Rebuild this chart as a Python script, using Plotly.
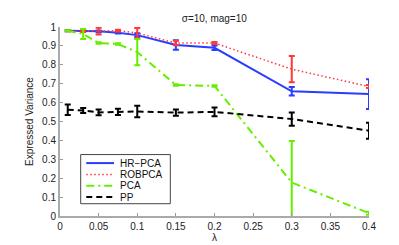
import plotly.graph_objects as go

lam = [0.01, 0.03, 0.05, 0.075, 0.1, 0.15, 0.2, 0.3, 0.4]

hr_pca = [0.98, 0.98, 0.977, 0.97, 0.957, 0.905, 0.89, 0.66, 0.645]
hr_pca_err = [0.003, 0.004, 0.005, 0.005, 0.01, 0.025, 0.012, 0.022, 0.079]

robpca = [0.98, 0.978, 0.978, 0.981, 0.968, 0.915, 0.915, 0.777, 0.685]
robpca_err = [0.003, 0.004, 0.018, 0.005, 0.027, 0.012, 0.005, 0.069, 0.008]

pca = [0.98, 0.963, 0.915, 0.91, 0.867, 0.693, 0.688, 0.177, 0.015]
pca_err = [0.003, 0.027, 0.004, 0.004, 0.07, 0.004, 0.004, 0.22, 0.008]

pp = [0.562, 0.558, 0.548, 0.551, 0.553, 0.547, 0.551, 0.513, 0.451]
pp_err = [0.028, 0.013, 0.015, 0.017, 0.03, 0.016, 0.023, 0.035, 0.042]

x_ticks = [0, 0.05, 0.1, 0.15, 0.2, 0.25, 0.3, 0.35, 0.4]
x_tick_labels = ["0", "0.05", "0.1", "0.15", "0.2", "0.25", "0.3", "0.35", "0.4"]
y_ticks = [0, 0.1, 0.2, 0.3, 0.4, 0.5, 0.6, 0.7, 0.8, 0.9, 1]
y_tick_labels = ["0", "0.1", "0.2", "0.3", "0.4", "0.5", "0.6", "0.7", "0.8", "0.9", "1"]

series = [
    ("HR\u2212PCA", hr_pca, hr_pca_err, "#2a3cff", "solid", 2),
    ("ROBPCA", robpca, robpca_err, "#ff3838", "1.5px,2.5px", 1.5),
    ("PCA", pca, pca_err, "#66ee00", "8px,4px,2px,4px", 2),
    ("PP", pp, pp_err, "#000000", "6px,4px", 2),
]

fig = go.Figure()
for name, y, e, c, dash, w in series:
    fig.add_trace(go.Scatter(
        x=lam, y=y, name=name, mode="lines", showlegend=False,
        line=dict(color=c, dash=dash, width=w),
        error_y=dict(type="data", array=e, visible=True, color=c,
                     thickness=2, width=3),
    ))

font = "Liberation Sans, Arial, Helvetica, sans-serif"

# Manual legend (compact, MATLAB-style) in paper coordinates
leg_x0, leg_x1, leg_y0, leg_y1 = 0.067, 0.357, 0.065, 0.325
row_top, row_step = 0.28, 0.06
shapes = [dict(type="rect", xref="paper", yref="paper", x0=leg_x0, x1=leg_x1,
               y0=leg_y0, y1=leg_y1, line=dict(color="#444", width=1),
               fillcolor="white", layer="above")]
annotations = []
for i, (name, _, _, c, dash, w) in enumerate(series):
    yy = row_top - i * row_step
    shapes.append(dict(type="line", xref="paper", yref="paper", x0=0.085, x1=0.175,
                       y0=yy, y1=yy, line=dict(color=c, dash=dash, width=w),
                       layer="above"))
    annotations.append(dict(text=name, xref="paper", yref="paper", x=0.188, y=yy,
                            xanchor="left", yanchor="middle", showarrow=False,
                            font=dict(size=10, family=font, color="#111")))

fig.update_layout(
    width=399, height=245,
    margin=dict(l=52, r=38, t=19, b=27),
    paper_bgcolor="white", plot_bgcolor="white",
    font=dict(family=font, size=10, color="#222"),
    title=dict(text="\u03c3=10, mag=10", x=0.517, xanchor="center",
               y=0.97, yanchor="top", font=dict(size=10, family=font, color="#222")),
    showlegend=False,
    shapes=shapes,
    annotations=annotations,
    xaxis=dict(range=[0, 0.4], tickvals=x_ticks, ticktext=x_tick_labels,
               showgrid=False, zeroline=False, showline=True, linecolor="#aaaaaa",
               linewidth=2, ticks="inside", ticklen=3, tickcolor="#999",
               title=dict(text="\u03bb", standoff=2, font=dict(size=10)),
               tickfont=dict(size=10)),
    yaxis=dict(range=[0, 1], tickvals=y_ticks, ticktext=y_tick_labels,
               showgrid=False, zeroline=False, showline=True, linecolor="#aaaaaa",
               linewidth=2, ticks="inside", ticklen=3, tickcolor="#999",
               title=dict(text="Expressed Variance", standoff=7, font=dict(size=10)),
               tickfont=dict(size=10)),
)

fig.write_html("out.html")
